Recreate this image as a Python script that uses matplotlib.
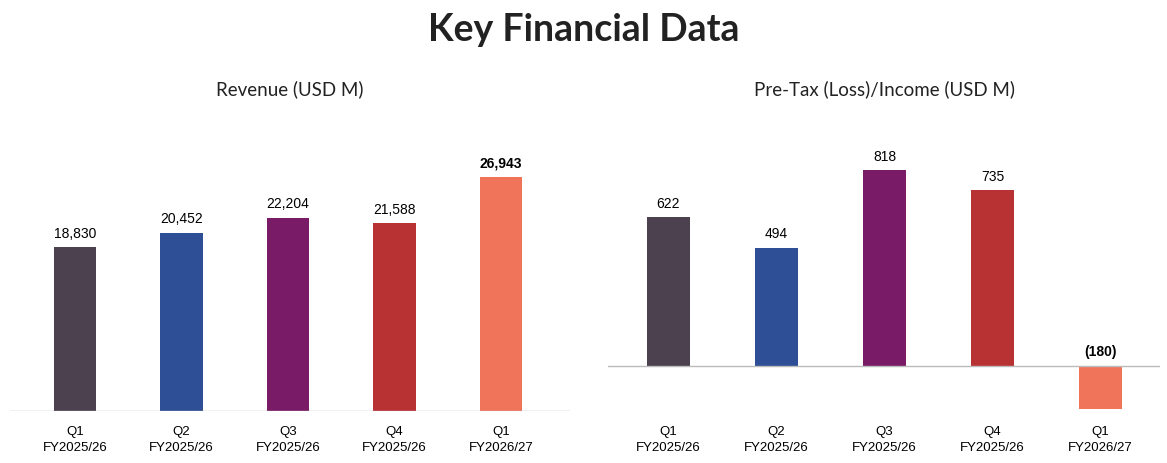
import matplotlib.pyplot as plt

quarters = ["Q1\nFY2025/26", "Q2\nFY2025/26", "Q3\nFY2025/26", "Q4\nFY2025/26", "Q1\nFY2026/27"]
revenue = [18830, 20452, 22204, 21588, 26943]
pretax = [622, 494, 818, 735, -180]
colors = ["#4B414F", "#2E4F96", "#7A1B67", "#B83234", "#F07459"]

W, H = 1167, 464
fig = plt.figure(figsize=(W / 100, H / 100), dpi=100)
fig.text(0.5, 1 - 30 / H, "Key Financial Data", ha="center", va="center",
         fontsize=27, fontweight="bold", family="Lato", color="#222222")


def make_axes(x0, x1):
    return fig.add_axes([x0 / W, 1 - 412 / H, (x1 - x0) / W, 272 / H])


def style(ax, title, xlim):
    for s in ax.spines.values():
        s.set_visible(False)
    ax.set_yticks([])
    ax.set_xlim(*xlim)
    ax.set_xticks(range(len(quarters)))
    ax.set_xticklabels(quarters, fontsize=9.5, family="Liberation Sans", linespacing=1.5)
    ax.tick_params(axis="x", length=0, pad=10)
    ax.set_title(title, fontsize=13.5, family="Lato", pad=32, color="#222222")


# revenue
ax1 = make_axes(10, 570)
ax1.bar(range(5), revenue, width=0.4, color=colors)
ax1.set_ylim(0, 31300)
ax1.axhline(0, color="#BBBBBB", lw=1)
for i, v in enumerate(revenue):
    ax1.text(i, v + 900, f"{v:,}", ha="center", va="bottom", fontsize=10,
             family="Liberation Sans", fontweight="bold" if i == 4 else "normal")
style(ax1, "Revenue (USD M)", (-0.61, 4.65))

# pre-tax
ax2 = make_axes(608, 1160)
ax2.bar(range(5), pretax, width=0.4, color=colors)
ax2.set_ylim(-190, 948)
ax2.axhline(0, color="#BBBBBB", lw=1)
for i, v in enumerate(pretax):
    lbl = f"{v:,}" if v >= 0 else f"({-v:,})"
    y = v + 30 if v >= 0 else 30
    ax2.text(i, y, lbl, ha="center", va="bottom", fontsize=10,
             family="Liberation Sans", fontweight="bold" if i == 4 else "normal")
style(ax2, "Pre-Tax (Loss)/Income (USD M)", (-0.56, 4.55))
ax2.set_title("Pre-Tax (Loss)/Income (USD M)", fontsize=13.5, family="Lato", pad=32, color="#222222")

fig.savefig("out.png", dpi=100, facecolor="white")
